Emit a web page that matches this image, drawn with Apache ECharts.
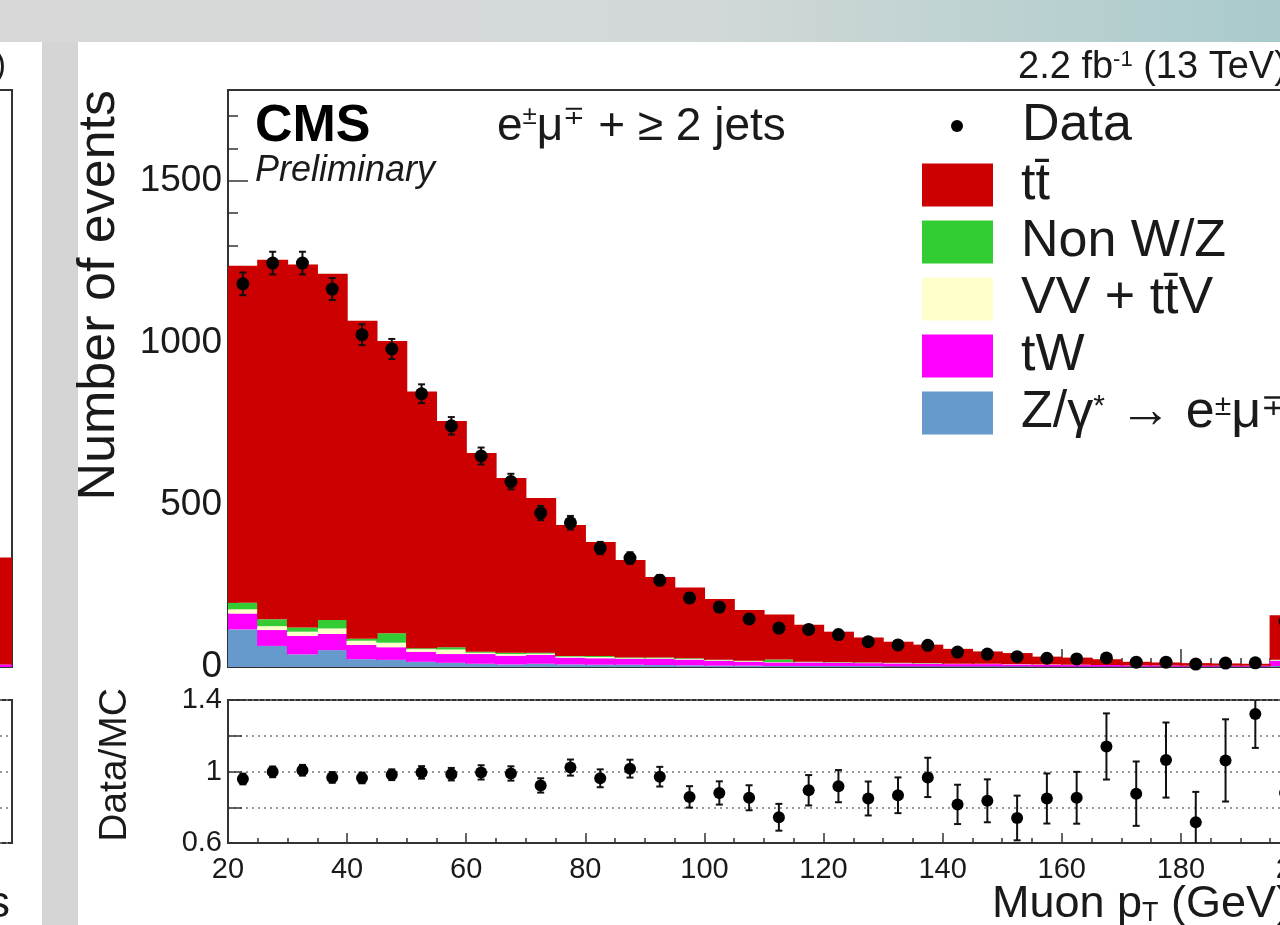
<!DOCTYPE html>
<html>
<head>
<meta charset="utf-8">
<title>Muon pT, e mu + 2 jets</title>
<script src="https://cdn.jsdelivr.net/npm/echarts@6.0.0/dist/echarts.min.js"></script>
<style>
html, body { margin: 0; padding: 0; background: #fff; }
#muonPt { width: 1280px; height: 925px; }
</style>
</head>
<body>
<div id="muonPt"></div>
<script>
// 5 GeV bins, lower edges (last one is the overflow bin)
const binLow = [20, 25, 30, 35, 40, 45, 50, 55, 60, 65, 70, 75, 80, 85, 90, 95, 100, 105,
  110, 115, 120, 125, 130, 135, 140, 145, 150, 155, 160, 165, 170, 175, 180, 185, 190, 195];

// observed events
const dataCounts = [1182, 1246, 1246, 1166, 1025, 981, 843, 744, 651, 572, 475, 445, 367, 336, 268, 213, 185, 148,
  120, 116, 100, 78, 68, 67, 46, 40, 32, 27, 25, 28, 15, 15, 9, 12, 13, 141];
const dataErr = [35, 35, 35, 34, 32, 31, 29, 27, 26, 24, 22, 21, 19, 18, 16, 15, 14, 12,
  11, 11, 10, 9, 8, 8, 7, 6, 6, 5, 5, 5, 4, 4, 3, 3, 4, 12];

// simulation, stacked from the bottom: Z/gamma*, tW, VV+ttV, non W/Z, ttbar
const dyEmu = [116, 65, 39, 52, 24, 22, 16, 13, 10, 8, 10, 8, 7, 7, 6, 5, 4, 4,
  3, 3, 3, 3, 2, 2, 2, 2, 2, 1, 1, 1, 1, 1, 1, 1, 1, 3];
const tW = [49, 49, 57, 50, 44, 39, 31, 27, 30, 27, 27, 21, 20, 18, 19, 18, 15, 12,
  11, 11, 10, 9, 9, 8, 7, 7, 6, 6, 5, 5, 4, 4, 3, 3, 3, 16];
const vvTtv = [13, 12, 13, 17, 13, 14, 8, 14, 4, 5, 4, 3, 4, 2, 2, 2, 2, 2,
  1, 1, 1, 1, 1, 1, 1, 1, 1, 1, 1, 0, 0, 0, 0, 0, 0, 2];
const nonWZ = [20, 21, 13, 26, 6, 29, 3, 7, 3, 4, 3, 2, 3, 2, 2, 2, 1, 1,
  8, 1, 1, 1, 1, 1, 0, 0, 0, 0, 0, 0, 0, 0, 0, 0, 0, 1];
const ttbar = [1040, 1109, 1120, 1068, 981, 902, 792, 698, 613, 539, 477, 404, 352, 301, 249, 218, 188, 157,
  139, 114, 94, 77, 65, 57, 46, 38, 34, 24, 22, 18, 11, 9, 8, 7, 6, 138];

// lower panel
const ratio = [0.958, 0.998, 1.007, 0.967, 0.964, 0.982, 0.995, 0.985, 0.995, 0.989, 0.922, 1.022, 0.962, 1.016,
  0.971, 0.858, 0.88, 0.853, 0.744, 0.895, 0.918, 0.849, 0.867, 0.967, 0.816, 0.836, 0.74, 0.849, 0.853, 1.14,
  0.876, 1.064, 0.716, 1.062, 1.322, 0.88];
const ratioErr = [0.03, 0.03, 0.03, 0.03, 0.03, 0.03, 0.035, 0.035, 0.04, 0.04, 0.04, 0.045, 0.05, 0.05, 0.055,
  0.06, 0.065, 0.07, 0.075, 0.085, 0.09, 0.095, 0.1, 0.11, 0.11, 0.12, 0.125, 0.14, 0.145, 0.185, 0.18, 0.21,
  0.17, 0.23, 0.19, 0.2];
const ratioTickLabels = [0.6, 1, 1.4];

// the neighbouring plot on the slide, only its last bin is visible
const sideTtbar = [330];
const sideTw = [8];

const FONT = 'Liberation Sans, Arial, Helvetica, sans-serif';
const INK = '#1a1a1a';

var chart = echarts.init(document.getElementById('muonPt'));

function errorBar(params, api) {
  var x = api.value(0), y = api.value(1), e = api.value(2);
  var lo = api.coord([x, y - e]);
  var hi = api.coord([x, y + e]);
  var cap = 3.5;
  var st = { stroke: '#111', lineWidth: 2 };
  return {
    type: 'group',
    children: [
      { type: 'line', shape: { x1: lo[0], y1: lo[1], x2: hi[0], y2: hi[1] }, style: st },
      { type: 'line', shape: { x1: lo[0] - cap, y1: lo[1], x2: lo[0] + cap, y2: lo[1] }, style: st },
      { type: 'line', shape: { x1: hi[0] - cap, y1: hi[1], x2: hi[0] + cap, y2: hi[1] }, style: st }
    ]
  };
}

// bins a hair wider than the band so neighbours overlap and leave no seams
function mcBar(name, values, color) {
  return {
    name: name,
    type: 'bar',
    stack: 'mc',
    xAxisIndex: 0,
    yAxisIndex: 0,
    barWidth: 31,
    barGap: '-100%',
    itemStyle: { color: color },
    emphasis: { disabled: true },
    data: values
  };
}

const frameLine = { show: true, lineStyle: { color: '#333', width: 2 } };

var option = {
  animation: false,
  backgroundColor: '#fff',
  grid: [
    { left: 228, top: 90, width: 1072, height: 577, show: true, borderColor: '#333', borderWidth: 2, outerBoundsMode: 'none' },
    { left: 228, top: 700, width: 1072, height: 143, show: true, borderColor: '#333', borderWidth: 2, outerBoundsMode: 'none' },
    { left: -18, top: 90, width: 30, height: 577, show: true, borderColor: '#333', borderWidth: 2, outerBoundsMode: 'none' },
    { left: -18, top: 700, width: 30, height: 143, show: true, borderColor: '#333', borderWidth: 2, outerBoundsMode: 'none' }
  ],
  xAxis: [
    { type: 'category', gridIndex: 0, position: 'bottom', data: binLow, show: false },
    {
      type: 'value', gridIndex: 0, position: 'bottom', min: 20, max: 200, interval: 20,
      axisLine: frameLine,
      axisTick: { show: true, inside: true, length: 18, lineStyle: { color: '#333', width: 1.5 } },
      minorTick: { show: true, splitNumber: 4, length: 9, lineStyle: { color: '#333', width: 1.5 } },
      axisLabel: { show: false },
      splitLine: { show: false }
    },
    { type: 'category', gridIndex: 1, position: 'bottom', data: binLow, show: false },
    {
      type: 'value', gridIndex: 1, position: 'bottom', min: 20, max: 200, interval: 20,
      axisLine: frameLine,
      axisTick: { show: true, inside: true, length: 10, lineStyle: { color: '#333', width: 1.5 } },
      minorTick: { show: true, splitNumber: 4, length: 5, lineStyle: { color: '#333', width: 1.5 } },
      axisLabel: { fontSize: 29, fontFamily: FONT, color: INK, margin: 12 },
      splitLine: { show: false }
    },
    { type: 'category', gridIndex: 2, data: ['last'], show: false },
    { type: 'category', gridIndex: 3, data: ['last'], show: false }
  ],
  yAxis: [
    {
      type: 'value', gridIndex: 0, position: 'left', min: 0, max: 1780, interval: 500,
      axisLine: frameLine,
      axisTick: { show: true, inside: true, length: 20, lineStyle: { color: '#333', width: 1.5 } },
      minorTick: { show: true, splitNumber: 5, length: 10, lineStyle: { color: '#333', width: 1.5 } },
      axisLabel: {
        fontSize: 37, fontFamily: FONT, color: INK, margin: 6, showMaxLabel: false,
        formatter: function (v) { return String(v); }
      },
      splitLine: { show: false }
    },
    {
      type: 'value', gridIndex: 1, position: 'left', min: 0.6, max: 1.4, interval: 0.2,
      axisLine: frameLine,
      axisTick: { show: true, inside: true, length: 14, lineStyle: { color: '#333', width: 1.5 } },
      axisLabel: {
        fontSize: 29, fontFamily: FONT, color: INK, margin: 6,
        formatter: function (v) {
          var r = Math.round(v * 10) / 10;
          return ratioTickLabels.indexOf(r) >= 0 ? String(r) : '';
        }
      },
      splitLine: { show: true, lineStyle: { color: '#777', width: 1.5, type: [2, 4] } }
    },
    { type: 'value', gridIndex: 2, min: 0, max: 1780, show: false },
    {
      type: 'value', gridIndex: 3, min: 0.6, max: 1.4, interval: 0.2,
      axisLabel: { show: false }, axisTick: { show: false }, axisLine: { show: false },
      splitLine: { show: true, lineStyle: { color: '#777', width: 1.5, type: [2, 4] } }
    }
  ],
  legend: [
    {
      data: ['Data'],
      left: 946, top: 95, orient: 'vertical',
      itemWidth: 120, itemHeight: 12, icon: 'circle',
      selectedMode: false,
      textStyle: { fontSize: 52, fontFamily: FONT, color: INK }
    },
    {
      data: ['tt\u0304', 'Non W/Z', 'VV + tt\u0304V', 'tW', 'Z/\u03b3* \u2192 e\u00b1\u03bc\u2213'],
      left: 917, top: 154, orient: 'vertical',
      itemWidth: 71, itemHeight: 43, itemGap: 5, icon: 'rect',
      selectedMode: false,
      formatter: function (name) {
        if (name.indexOf('Z/') === 0) return 'Z/\u03b3{sup|*} \u2192 e{sup|\u00b1}\u03bc{sup|\u2213}';
        return name;
      },
      textStyle: {
        fontSize: 52, fontFamily: FONT, color: INK, lineHeight: 43, padding: [0, 0, 0, 23],
        rich: { sup: { fontSize: 30, fontFamily: FONT, color: INK, verticalAlign: 'top', lineHeight: 26 } }
      }
    }
  ],
  graphic: [
    {
      type: 'rect', silent: true, z: -10,
      shape: { x: 0, y: 0, width: 1280, height: 42 },
      style: {
        fill: new echarts.graphic.LinearGradient(0, 0, 1, 0, [
          { offset: 0, color: '#d8d8d8' },
          { offset: 0.55, color: '#d2d8d8' },
          { offset: 1, color: '#a9cbcb' }
        ])
      }
    },
    { type: 'rect', silent: true, z: -10, shape: { x: 42, y: 42, width: 36, height: 883 }, style: { fill: '#d5d5d5' } },
    {
      type: 'text', x: 100, y: 90, rotation: Math.PI / 2,
      style: { text: 'Number of events', font: '52px ' + FONT, fill: INK, align: 'right', verticalAlign: 'middle' }
    },
    {
      type: 'text', x: 115, y: 688, rotation: Math.PI / 2,
      style: { text: 'Data/MC', font: '39px ' + FONT, fill: INK, align: 'right', verticalAlign: 'middle' }
    },
    {
      type: 'text', x: 255, y: 127,
      style: { text: 'CMS', font: 'bold 52px ' + FONT, fill: '#000', align: 'left', verticalAlign: 'middle' }
    },
    {
      type: 'text', x: 255, y: 171,
      style: { text: 'Preliminary', font: 'italic 36px ' + FONT, fill: INK, align: 'left', verticalAlign: 'middle' }
    },
    {
      type: 'text', x: 497, y: 127,
      style: {
        text: '{b|e}{s|\u00b1}{b|\u03bc}{s|\u2213}{b| + \u2265 2 jets}',
        align: 'left', verticalAlign: 'middle',
        rich: {
          b: { fontSize: 46, fontFamily: FONT, fill: INK, color: INK, lineHeight: 46 },
          s: { fontSize: 26, fontFamily: FONT, fill: INK, color: INK, verticalAlign: 'top', lineHeight: 24 }
        }
      }
    },
    {
      type: 'text', x: 1018, y: 68,
      style: {
        text: '{b|2.2 fb}{s|-1}{b| (13 TeV)}',
        align: 'left', verticalAlign: 'middle',
        rich: {
          b: { fontSize: 38, fontFamily: FONT, fill: INK, color: INK, lineHeight: 38 },
          s: { fontSize: 22, fontFamily: FONT, fill: INK, color: INK, verticalAlign: 'top', lineHeight: 20 }
        }
      }
    },
    {
      type: 'text', x: 1291, y: 905,
      style: {
        text: '{b|Muon p}{t|T}{b| (GeV)}',
        align: 'right', verticalAlign: 'middle',
        rich: {
          b: { fontSize: 45, fontFamily: FONT, fill: INK, color: INK, lineHeight: 45 },
          t: { fontSize: 27, fontFamily: FONT, fill: INK, color: INK, verticalAlign: 'bottom', lineHeight: 22 }
        }
      }
    },
    {
      type: 'text', x: 6, y: 66,
      style: { text: ')', font: '33px ' + FONT, fill: INK, align: 'right', verticalAlign: 'middle' }
    },
    {
      type: 'text', x: 10, y: 905,
      style: { text: 's', font: '45px ' + FONT, fill: INK, align: 'right', verticalAlign: 'middle' }
    }
  ],
  series: [
    mcBar('Z/\u03b3* \u2192 e\u00b1\u03bc\u2213', dyEmu, '#6699cc'),
    mcBar('tW', tW, '#ff00ff'),
    mcBar('VV + tt\u0304V', vvTtv, '#ffffcc'),
    mcBar('Non W/Z', nonWZ, '#33cc33'),
    mcBar('tt\u0304', ttbar, '#cc0000'),
    {
      type: 'custom', xAxisIndex: 0, yAxisIndex: 0, clip: true, z: 4,
      renderItem: errorBar,
      encode: { x: 0, y: 1 },
      data: dataCounts.map(function (v, i) { return [i, v, dataErr[i]]; })
    },
    {
      name: 'Data', type: 'scatter', xAxisIndex: 0, yAxisIndex: 0, z: 5,
      symbolSize: 13, itemStyle: { color: '#000', opacity: 1 },
      emphasis: { disabled: true },
      data: dataCounts.map(function (v, i) { return [i, v]; })
    },
    {
      type: 'custom', xAxisIndex: 2, yAxisIndex: 1, clip: true, z: 4,
      renderItem: errorBar,
      encode: { x: 0, y: 1 },
      data: ratio.map(function (v, i) { return [i, v, ratioErr[i]]; })
    },
    {
      name: 'Data/MC', type: 'scatter', xAxisIndex: 2, yAxisIndex: 1, z: 5,
      symbolSize: 12, itemStyle: { color: '#000', opacity: 1 },
      emphasis: { disabled: true },
      data: ratio.map(function (v, i) { return [i, v]; })
    },
    {
      type: 'bar', stack: 'side', xAxisIndex: 4, yAxisIndex: 2, barCategoryGap: '0%',
      itemStyle: { color: '#ff00ff' }, data: sideTw
    },
    {
      type: 'bar', stack: 'side', xAxisIndex: 4, yAxisIndex: 2, barCategoryGap: '0%',
      itemStyle: { color: '#cc0000' }, data: sideTtbar
    }
  ]
};

option && chart.setOption(option);
</script>
</body>
</html>
